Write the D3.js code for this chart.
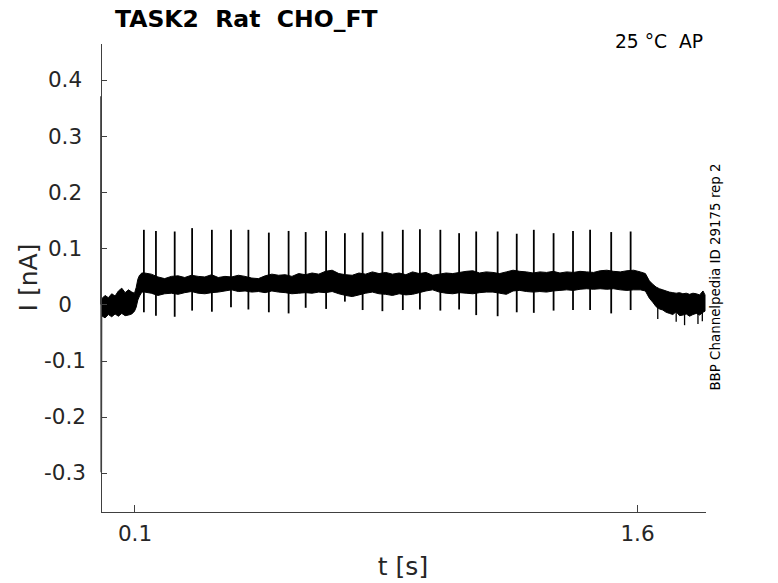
<!DOCTYPE html>
<html>
<head>
<meta charset="utf-8">
<script src="https://cdn.jsdelivr.net/npm/d3@7/dist/d3.min.js"></script>
<style>
  body { margin: 0; background: #fff; }
  svg { display: block; font-family: "DejaVu Sans", sans-serif; }
  .axis path, .axis line { stroke: #404040; shape-rendering: crispEdges; }
  .axis text { fill: #262626; font-size: 21.5px; font-family: "DejaVu Sans", sans-serif; }
</style>
</head>
<body>
<svg id="chart" width="778" height="583"></svg>
<script>
// ---- data ----
const titleText = "TASK2  Rat  CHO_FT";
const conditionText = "25 °C  AP";
const sideText = "BBP Channelpedia ID 29175 rep 2";

const xTickValues = [0.1, 1.6];
const xTickLabels = ["0.1", "1.6"];
const yTickValues = [-0.3, -0.2, -0.1, 0, 0.1, 0.2, 0.3, 0.4];
const yTickLabels = ["-0.3", "-0.2", "-0.1", "0", "0.1", "0.2", "0.3", "0.4"];

// capacitive transient at t = 0
const transientTimes = [0, 0.0004, 0.0009, 0.0015];
const transientValues = [0.0, 0.371, -0.299, 0.0];

// noise band of the current trace: upper / lower envelope (nA)
const envTimes = [
  0.002, 0.012, 0.022, 0.032, 0.042, 0.052, 0.062, 0.072, 0.082, 0.092, 0.1,
  0.105, 0.11, 0.115, 0.122,
  0.13, 0.15, 0.17, 0.19, 0.21, 0.23, 0.25, 0.27, 0.29, 0.31, 0.33, 0.35, 0.37, 0.39,
  0.41, 0.43, 0.45, 0.47, 0.49, 0.51, 0.53, 0.55, 0.57, 0.59, 0.61, 0.63, 0.65, 0.67,
  0.69, 0.71, 0.73, 0.75, 0.77, 0.79, 0.81, 0.83, 0.85, 0.87, 0.89, 0.91, 0.93, 0.95,
  0.97, 0.99, 1.01, 1.03, 1.05, 1.07, 1.09, 1.11, 1.13, 1.15, 1.17, 1.19, 1.21, 1.23,
  1.25, 1.27, 1.29, 1.31, 1.33, 1.35, 1.37, 1.39, 1.41, 1.43, 1.45, 1.47, 1.49, 1.51,
  1.53, 1.55, 1.57, 1.59, 1.61, 1.625,
  1.637, 1.647, 1.657, 1.667, 1.677, 1.687, 1.697, 1.707, 1.717, 1.727, 1.737, 1.747,
  1.757, 1.767, 1.777, 1.787, 1.797, 1.803
];
const envUpper = [
  0.010, 0.016, 0.012, 0.019, 0.015, 0.024, 0.029, 0.021, 0.026, 0.022, 0.020,
  0.030, 0.045, 0.052, 0.056,
  0.056, 0.054, 0.049, 0.046, 0.050, 0.051, 0.048, 0.052, 0.050, 0.049, 0.053, 0.048, 0.050, 0.049,
  0.052, 0.050, 0.047, 0.046, 0.051, 0.054, 0.052, 0.053, 0.050, 0.055, 0.053, 0.056, 0.054, 0.059,
  0.061, 0.055, 0.053, 0.052, 0.056, 0.054, 0.058, 0.055, 0.057, 0.054, 0.056, 0.053, 0.058, 0.055,
  0.057, 0.052, 0.054, 0.056, 0.055, 0.057, 0.059, 0.060, 0.056, 0.058, 0.057, 0.055, 0.058, 0.061,
  0.059, 0.058, 0.056, 0.058, 0.057, 0.059, 0.056, 0.058, 0.057, 0.059, 0.058, 0.057, 0.060, 0.061,
  0.059, 0.058, 0.060, 0.061, 0.058, 0.055,
  0.042, 0.036, 0.031, 0.028, 0.026, 0.024, 0.022, 0.021, 0.020, 0.021, 0.019, 0.020,
  0.018, 0.020, 0.019, 0.017, 0.024, 0.017
];
const envLower = [
  -0.020, -0.024, -0.018, -0.022, -0.017, -0.021, -0.016, -0.020, -0.019, -0.017, -0.012,
  -0.005, 0.008, 0.015, 0.022,
  0.022, 0.020, 0.016, 0.019, 0.020, 0.018, 0.021, 0.023, 0.020, 0.019, 0.021, 0.022, 0.024, 0.026,
  0.023, 0.024, 0.022, 0.023, 0.021, 0.024, 0.022, 0.021, 0.019, 0.020, 0.021, 0.020, 0.022, 0.021,
  0.023, 0.019, 0.016, 0.014, 0.017, 0.020, 0.022, 0.019, 0.018, 0.016, 0.019, 0.017, 0.018, 0.021,
  0.024, 0.026, 0.022, 0.020, 0.019, 0.021, 0.020, 0.019, 0.021, 0.022, 0.022, 0.020, 0.018, 0.024,
  0.025, 0.023, 0.022, 0.023, 0.022, 0.024, 0.025, 0.026, 0.025, 0.027, 0.028, 0.027, 0.028, 0.027,
  0.028, 0.026, 0.025, 0.026, 0.026, 0.024,
  0.011, 0.004, -0.004, -0.008, -0.010, -0.014, -0.016, -0.018, -0.013, -0.020, -0.019, -0.017,
  -0.021, -0.018, -0.016, -0.019, -0.014, -0.012
];

// downward noise glitches after the step ends
const glitchTimes = [1.662, 1.717, 1.742, 1.782, 1.795];
const glitchValues = [-0.026, -0.031, -0.037, -0.035, -0.030];

// action currents: time, peak, trough
const spikeTimes = [
  0.128, 0.164, 0.220, 0.272, 0.331, 0.388, 0.440, 0.501, 0.560, 0.611, 0.672, 0.728, 0.781, 0.840,
  0.901, 0.952, 1.013, 1.069, 1.120, 1.184, 1.241, 1.292, 1.351, 1.409, 1.460, 1.523, 1.581
];
const spikePeaks = [
  0.133, 0.131, 0.130, 0.136, 0.133, 0.133, 0.133, 0.128, 0.131, 0.129, 0.131, 0.127, 0.128, 0.130,
  0.133, 0.134, 0.133, 0.127, 0.130, 0.130, 0.126, 0.133, 0.127, 0.131, 0.133, 0.129, 0.130
];
const spikeTroughs = [
  -0.014, -0.020, -0.022, -0.011, -0.013, -0.005, -0.009, -0.014, -0.016, -0.006, -0.008, 0.005, -0.010, -0.012,
  -0.010, -0.009, -0.011, -0.009, -0.019, -0.021, -0.014, -0.015, -0.011, -0.010, -0.010, -0.016, -0.010
];

// ---- layout ----
const svg = d3.select("#chart");
const margin = { left: 101, top: 43, right: 73, bottom: 71 };
const W = 778 - margin.left - margin.right;
const H = 583 - margin.top - margin.bottom;

const x = d3.scaleLinear().domain([0, 1.803]).range([0, W]);
const y = d3.scaleLinear().domain([-0.370, 0.466]).range([H, 0]);

const g = svg.append("g").attr("transform", `translate(${margin.left},${margin.top})`);

// noise band
const band = envTimes.map((t, i) => ({ t: t, lo: envLower[i], hi: envUpper[i] }));
const area = d3.area()
  .x(d => x(d.t))
  .y0(d => y(d.lo))
  .y1(d => y(d.hi));
g.append("path")
  .datum(band)
  .attr("d", area)
  .attr("fill", "#000")
  .attr("stroke", "#000")
  .attr("stroke-width", 1)
  .attr("stroke-linejoin", "round");

// glitches
g.append("g").selectAll("line")
  .data(glitchTimes.map((t, i) => ({ t: t, v: glitchValues[i] })))
  .enter().append("line")
  .attr("x1", d => x(d.t)).attr("x2", d => x(d.t))
  .attr("y1", d => y(0)).attr("y2", d => y(d.v))
  .attr("stroke", "#000").attr("stroke-width", 1.3);

// spikes
g.append("g").selectAll("line")
  .data(spikeTimes.map((t, i) => ({ t: t, hi: spikePeaks[i], lo: spikeTroughs[i] })))
  .enter().append("line")
  .attr("x1", d => x(d.t)).attr("x2", d => x(d.t))
  .attr("y1", d => y(d.lo)).attr("y2", d => y(d.hi))
  .attr("stroke", "#000").attr("stroke-width", 1.8);

// transient
g.append("path")
  .datum(transientTimes.map((t, i) => ({ t: t, v: transientValues[i] })))
  .attr("d", d3.line().x(d => x(d.t)).y(d => y(d.v)))
  .attr("fill", "none").attr("stroke", "#000").attr("stroke-width", 1.5);

// axes
g.append("g")
  .attr("class", "axis")
  .attr("transform", `translate(0,${H})`)
  .call(d3.axisBottom(x).tickValues(xTickValues).tickFormat((d, i) => xTickLabels[i])
    .tickSizeInner(-7).tickSizeOuter(0).tickPadding(14));

const yAxis = g.append("g")
  .attr("class", "axis")
  .call(d3.axisLeft(y).tickValues(yTickValues).tickFormat((d, i) => yTickLabels[i])
    .tickSizeInner(-6).tickSizeOuter(0).tickPadding(18));
// tick labels sit centred in the left margin, as in the reference
yAxis.selectAll(".tick text")
  .attr("text-anchor", "middle")
  .attr("x", -36);

// labels
svg.append("text")
  .attr("x", margin.left + W / 2).attr("y", 575)
  .attr("text-anchor", "middle")
  .attr("fill", "#262626").attr("font-size", 25)
  .text("t [s]");

svg.append("text")
  .attr("transform", `translate(37,${margin.top + H / 2}) rotate(-90)`)
  .attr("text-anchor", "middle")
  .attr("fill", "#262626").attr("font-size", 25)
  .text("I [nA]");

svg.append("text")
  .attr("x", 115).attr("y", 27)
  .attr("fill", "#000").attr("font-size", 23.5).attr("font-weight", "bold")
  .style("white-space", "pre")
  .text(titleText);

svg.append("text")
  .attr("x", 703).attr("y", 48)
  .attr("text-anchor", "end")
  .attr("fill", "#000").attr("font-size", 18.7)
  .style("white-space", "pre")
  .text(conditionText);

svg.append("text")
  .attr("transform", `translate(720,277) rotate(-90)`)
  .attr("text-anchor", "middle")
  .attr("fill", "#000").attr("font-size", 13.4)
  .text(sideText);
</script>
</body>
</html>
